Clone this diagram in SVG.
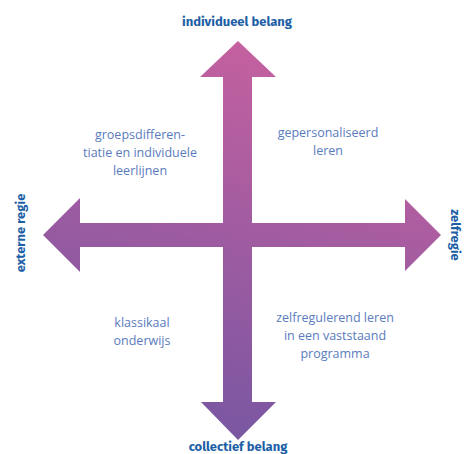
<svg xmlns="http://www.w3.org/2000/svg" width="466" height="454" viewBox="0 0 466 454">
<style>
.axis{font-family:"Fira Sans","Open Sans","Liberation Sans",sans-serif;font-weight:bold;font-size:13px;fill:#1d5fa6;text-anchor:middle}
.q{font-family:"Open Sans","Liberation Sans",sans-serif;font-size:12.5px;fill:#5a7bbd;text-anchor:middle}
</style>
<defs>
<linearGradient id="g" gradientUnits="userSpaceOnUse" x1="300" y1="40" x2="180" y2="440">
<stop offset="0" stop-color="#c8619f"/>
<stop offset="1" stop-color="#7656a2"/>
</linearGradient>
</defs>
<rect width="466" height="454" fill="#ffffff"/>
<g id="connectors">
<polygon fill="url(#g)" points="238,41 200,77 223,77 223,223 80,223 80,198 43,235 80,272 80,247 223,247 223,402 201,402 238,440 276,402 252,402 252,247 405,247 405,271 441,235 405,199 405,223 252,223 252,77 276,77"/>
</g>
<g id="individueel-belang"><text class="axis" x="237" y="26">individueel belang</text></g>
<g id="collectief-belang"><text class="axis" x="238" y="451">collectief belang</text></g>
<g id="externe-regie"><text class="axis" transform="translate(25,233) rotate(-90)">externe regie</text></g>
<g id="zelfregie"><text class="axis" transform="translate(451,235) rotate(90)">zelfregie</text></g>
<g id="groepsdifferentiatie">
<text class="q" x="140" y="139">groepsdifferen-</text>
<text class="q" x="140" y="157">tiatie en individuele</text>
<text class="q" x="140" y="175">leerlijnen</text>
</g>
<g id="gepersonaliseerd">
<text class="q" x="328" y="137">gepersonaliseerd</text>
<text class="q" x="328" y="155">leren</text>
</g>
<g id="klassikaal">
<text class="q" x="142" y="327">klassikaal</text>
<text class="q" x="142" y="345">onderwijs</text>
</g>
<g id="zelfregulerend">
<text class="q" x="335" y="322">zelfregulerend leren</text>
<text class="q" x="335" y="340">in een vaststaand</text>
<text class="q" x="335" y="358">programma</text>
</g>
</svg>
